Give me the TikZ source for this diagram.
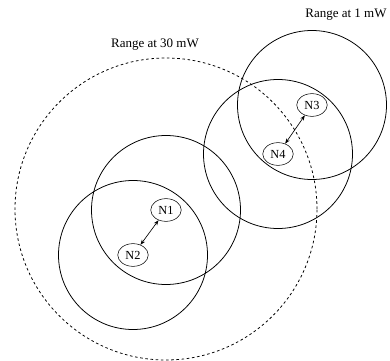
\documentclass[tikz,border=0pt]{standalone}
\usepackage{fontspec}
\setmainfont{Liberation Serif}
\usetikzlibrary{arrows.meta,shapes.geometric}
\tikzset{
  radio/.style={draw, ellipse, minimum width=23.5pt, minimum height=17.5pt,
    inner sep=0pt, font=\fontsize{9.5}{10}\selectfont},
  lowrange/.style={draw, line width=0.6pt},
  highrange/.style={draw, line width=0.6pt, dash pattern=on 2pt off 2pt},
  linkarrow/.style={{Stealth[length=4pt,width=3pt]}-{Stealth[length=4pt,width=3pt]}, line width=0.5pt},
  rangelabel/.style={font=\fontsize{10}{12}\selectfont}
}
\begin{document}
\begin{tikzpicture}[x=0.77pt, y=0.77pt]
  \useasboundingbox (0,0) rectangle (390,360);
  % nodes
  \node[radio] (n1) at (166,150) {N1};
  \node[radio] (n2) at (133,105) {N2};
  \node[radio] (n3) at (312,255) {N3};
  \node[radio] (n4) at (278,206) {N4};
  % transmission ranges
  \draw[highrange] (166,151) circle[radius=151];
  \draw[lowrange] (n1.center) circle[radius=74.5];
  \draw[lowrange] (n2.center) circle[radius=74.5];
  \draw[lowrange] (n3.center) circle[radius=74.5];
  \draw[lowrange] (n4.center) circle[radius=74.5];
  % links
  \draw[linkarrow] (n2) -- (n1);
  \draw[linkarrow] (n4) -- (n3);
  % labels
  \node[rangelabel] (l30) at (155,315) {Range at 30 mW};
  \node[rangelabel] (l1) at (346,345) {Range at 1 mW};
\end{tikzpicture}
\end{document}
